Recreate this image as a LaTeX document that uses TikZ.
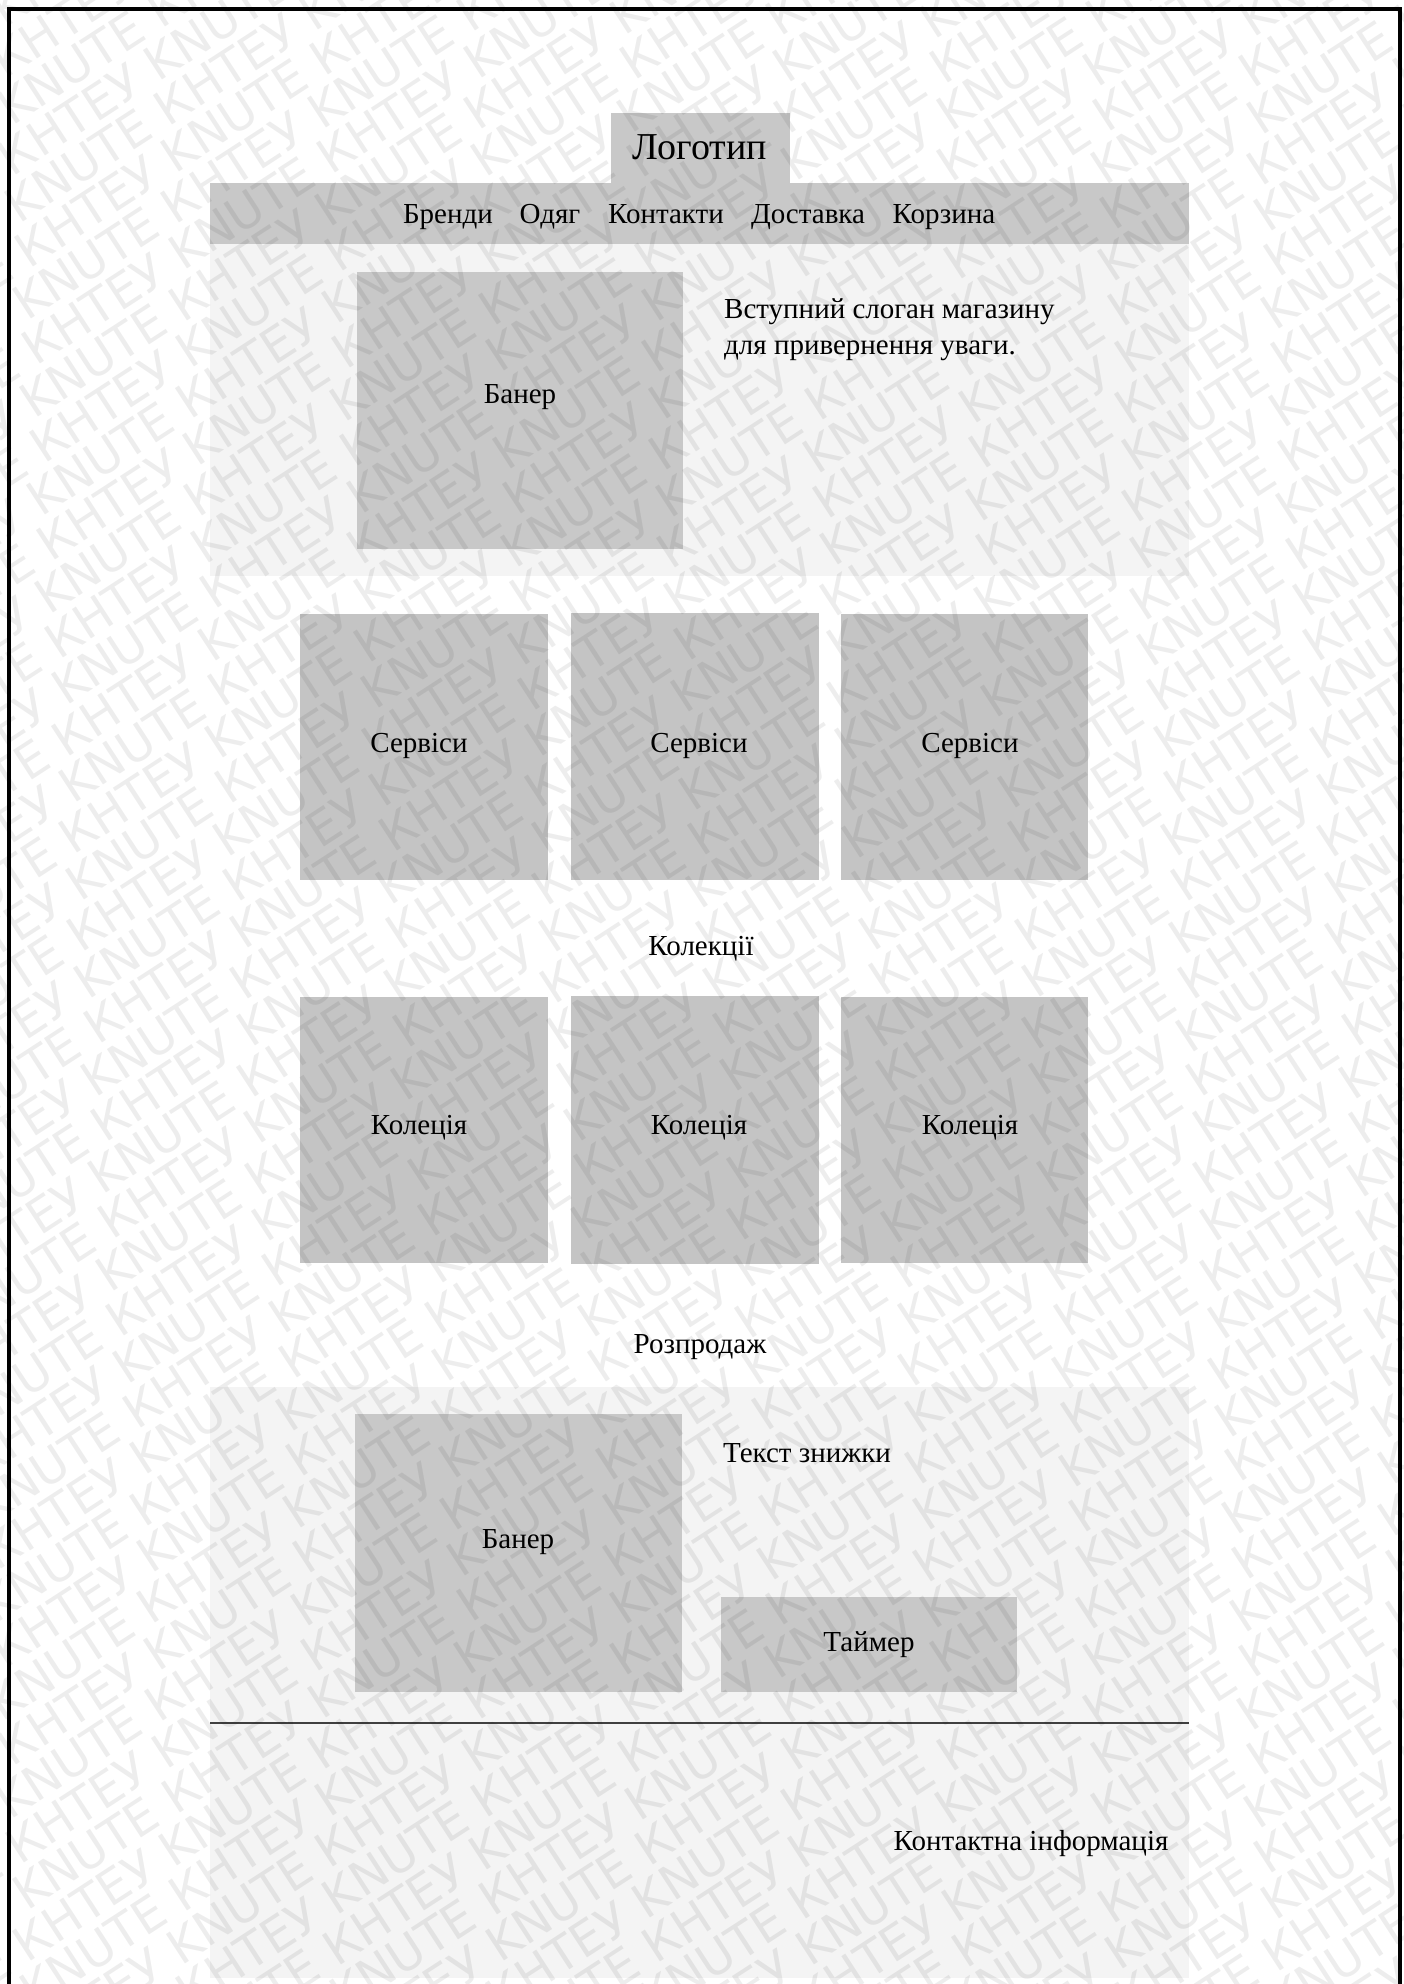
\documentclass[tikz,border=0pt]{standalone}
\usepackage{fontspec}
\setmainfont{Liberation Serif}
\newfontfamily\wmfont{DejaVu Sans}
\definecolor{boxgray}{HTML}{C8C8C8}
\definecolor{svcgray}{HTML}{C4C4C4}
\definecolor{pale}{HTML}{F4F4F4}
\newcommand{\wmpair}{KNUTE КНТЕУ }
\newcommand{\wmline}{\wmpair\wmpair\wmpair\wmpair\wmpair\wmpair\wmpair\wmpair\wmpair\wmpair}
\begin{document}
\begin{tikzpicture}[x=1pt,y=-1pt,
  blk/.style={fill=boxgray, draw=none, inner sep=0pt, outer sep=0pt, anchor=north west},
  svc/.style={fill=svcgray, draw=none, inner sep=0pt, outer sep=0pt, anchor=north west},
  sect/.style={fill=pale, draw=none, inner sep=0pt, outer sep=0pt, anchor=north west},
  lbl/.style={font=\fontsize{29}{35}\selectfont, inner sep=0pt, anchor=base},
  lblw/.style={lbl, anchor=base west},
  wm/.style={font=\wmfont\fontsize{48}{48}\selectfont, text=black, opacity=0.07, inner sep=0pt, rotate=33}]
\useasboundingbox (0,0) rectangle (1403,1984);
\clip (0,0) rectangle (1403,1984);
\fill[white] (0,0) rectangle (1403,1984);

% header
\node[blk, minimum width=179pt, minimum height=71pt] (logobox) at (611,113) {};
\node[blk, minimum width=979pt, minimum height=61pt] (nav) at (210,183) {};
\node[lbl, font=\fontsize{38}{42}\selectfont] (logo) at (700,159) {Логотип};
\node[lbl] (n1) at (448,223) {Бренди};
\node[lbl] (n2) at (550,223) {Одяг};
\node[lbl] (n3) at (666,223) {Контакти};
\node[lbl] (n4) at (808,223) {Доставка};
\node[lbl] (n5) at (944,223) {Корзина};

% hero
\node[sect, minimum width=979pt, minimum height=332pt] (hero) at (210,244) {};
\node[blk, minimum width=326pt, minimum height=277pt] (ban1) at (357,272) {};
\node[lbl] (ban1t) at (520,403) {Банер};
\node[lblw] (slog1) at (724,318) {Вступний слоган магазину};
\node[lblw] (slog2) at (724,354) {для привернення уваги.};

% services
\node[svc, minimum width=248pt, minimum height=266pt] (s1) at (300,614) {};
\node[svc, minimum width=248pt, minimum height=267pt] (s2) at (571,613) {};
\node[svc, minimum width=247pt, minimum height=266pt] (s3) at (841,614) {};
\node[lbl] (s1t) at (419,752) {Сервіси};
\node[lbl] (s2t) at (699,752) {Сервіси};
\node[lbl] (s3t) at (970,752) {Сервіси};

% collections
\node[lbl] (colh) at (701,955) {Колекції};
\node[svc, minimum width=248pt, minimum height=266pt] (c1) at (300,997) {};
\node[svc, minimum width=248pt, minimum height=268pt] (c2) at (571,996) {};
\node[svc, minimum width=247pt, minimum height=266pt] (c3) at (841,997) {};
\node[lbl] (c1t) at (419,1134) {Колеція};
\node[lbl] (c2t) at (699,1134) {Колеція};
\node[lbl] (c3t) at (970,1134) {Колеція};

% sale
\node[lbl] (saleh) at (700,1353) {Розпродаж};
\node[sect, minimum width=979pt, minimum height=336pt] (sale) at (210,1387) {};
\node[blk, minimum width=327pt, minimum height=278pt] (ban2) at (355,1414) {};
\node[lbl] (ban2t) at (518,1548) {Банер};
\node[lblw] (disc) at (723,1462) {Текст знижки};
\node[blk, minimum width=296pt, minimum height=95pt] (timer) at (721,1597) {};
\node[lbl] (timert) at (869,1651) {Таймер};

% footer
\node[sect, minimum width=979pt, minimum height=255pt] (foot) at (210,1723) {};
\coordinate (hl1) at (210,1723);
\coordinate (hl2) at (1189,1723);
\draw[line width=1.5pt, color=black!75] (hl1) -- (hl2);
\node[lbl] (contact) at (1031,1850) {Контактна інформація};

% watermark
\foreach \i in {-30,...,30} {
  \pgfmathsetmacro{\ph}{mod(\i*158,363)}
  \pgfmathsetmacro{\wx}{701.5+\i*23.4+\ph*0.839}
  \pgfmathsetmacro{\wy}{992+\i*36.1-\ph*0.545}
  \node[wm] (wm\i) at (\wx,\wy) {\wmline};
}

% frame
\draw[line width=4pt] (9,9) rectangle (1400,2010);
\end{tikzpicture}
\end{document}
